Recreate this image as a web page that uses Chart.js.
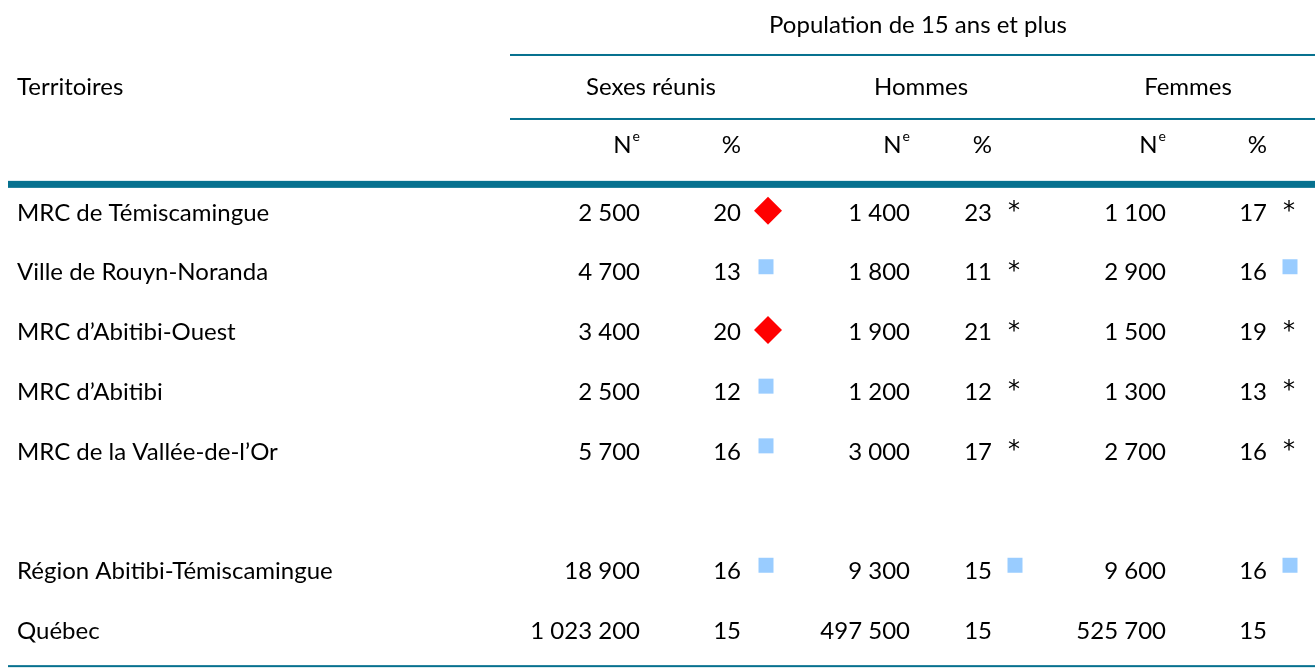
<!DOCTYPE html>
<html lang="fr">
<head>
<meta charset="utf-8">
<title>Population de 15 ans et plus</title>
<script src="https://cdn.jsdelivr.net/npm/chart.js@4/dist/chart.umd.min.js"></script>
<style>
  html, body { margin: 0; padding: 0; background: #fff; }
  #wrap { width: 1315px; height: 668px; position: relative; }
</style>
</head>
<body>
<div id="wrap"><canvas id="tbl"></canvas></div>
<script>
const territoires = ['MRC de Témiscamingue', 'Ville de Rouyn-Noranda', 'MRC d’Abitibi-Ouest', 'MRC d’Abitibi',
  'MRC de la Vallée-de-l’Or', '', 'Région Abitibi-Témiscamingue', 'Québec'];
const groupes = ['Sexes réunis', 'Hommes', 'Femmes'];
const nSexes   = [2500, 4700, 3400, 2500, 5700, null, 18900, 1023200];
const pctSexes = [20, 13, 20, 12, 16, null, 16, 15];
const nHommes   = [1400, 1800, 1900, 1200, 3000, null, 9300, 497500];
const pctHommes = [23, 11, 21, 12, 17, null, 15, 15];
const nFemmes   = [1100, 2900, 1500, 1300, 2700, null, 9600, 525700];
const pctFemmes = [17, 16, 19, 13, 16, null, 16, 15];
// d = losange rouge, s = carré bleu, * = astérisque
const flagSexes  = ['d', 's', 'd', 's', 's', null, 's', null];
const flagHommes = ['*', '*', '*', '*', '*', null, 's', null];
const flagFemmes = ['*', 's', '*', '*', '*', null, 's', null];

const TEAL = '#06718f';
const FONT = 'Lato, "Open Sans", sans-serif';
const FS = 24;

// column anchors (x scale units) for each group: right edge of N, right edge of %, marker center
const cols = [
  { head: 651, n: 640, p: 741, mark: 767 },
  { head: 921, n: 910, p: 992, mark: 1016 },
  { head: 1188, n: 1166, p: 1267, mark: 1291 }
];
const groupN = [nSexes, nHommes, nFemmes];
const groupP = [pctSexes, pctHommes, pctFemmes];
const groupF = [flagSexes, flagHommes, flagFemmes];

const fmt = v => String(v).replace(/\B(?=(\d{3})+(?!\d))/g, ' ');

// marker points built from the flags
const diamonds = [], squares = [];
groupF.forEach((flags, g) => {
  flags.forEach((f, i) => {
    if (f === 'd') diamonds.push({ x: cols[g].mark + 1, y: i - 0.04 });
    if (f === 's') squares.push({ x: cols[g].mark - 1, y: i - 0.1 });
  });
});

const tablePlugin = {
  id: 'tablePlugin',
  beforeDatasetsDraw(chart) {
    const { ctx, scales: { x, y } } = chart;
    ctx.save();
    // rules
    const hline = (x0, x1, yv, w) => {
      ctx.fillStyle = TEAL;
      const py = y.getPixelForValue(yv);
      ctx.fillRect(x.getPixelForValue(x0), py - w / 2, x.getPixelForValue(x1) - x.getPixelForValue(x0), w);
    };
    hline(510, 1315, -2.647, 2);
    hline(510, 1315, -1.575, 2);
    hline(8, 1315, -0.48, 7);
    hline(8, 1315, 7.59, 2);

    ctx.fillStyle = '#000';
    ctx.textBaseline = 'middle';
    ctx.font = FS + 'px ' + FONT;

    // headers
    ctx.textAlign = 'center';
    ctx.fillText('Population de 15 ans et plus', x.getPixelForValue(918), y.getPixelForValue(-3.149));
    groupes.forEach((g, k) => ctx.fillText(g, x.getPixelForValue(cols[k].head), y.getPixelForValue(-2.11)));
    ctx.textAlign = 'left';
    ctx.fillText('Territoires', x.getPixelForValue(17), y.getPixelForValue(-2.11));

    const yh = y.getPixelForValue(-1.139);
    cols.forEach(c => {
      ctx.textAlign = 'right';
      ctx.font = FS + 'px ' + FONT;
      ctx.fillText('%', x.getPixelForValue(c.p), yh);
      ctx.font = '14px ' + FONT;
      const ew = ctx.measureText('e').width;
      ctx.fillText('e', x.getPixelForValue(c.n), yh - 9);
      ctx.font = FS + 'px ' + FONT;
      ctx.fillText('N', x.getPixelForValue(c.n) - ew - 1, yh);
    });

    // body
    territoires.forEach((t, i) => {
      const py = y.getPixelForValue(i);
      ctx.textAlign = 'left';
      ctx.font = FS + 'px ' + FONT;
      ctx.fillText(t, x.getPixelForValue(17), py);
      cols.forEach((c, g) => {
        const n = groupN[g][i], p = groupP[g][i];
        ctx.textAlign = 'right';
        ctx.font = FS + 'px ' + FONT;
        if (n != null) ctx.fillText(fmt(n), x.getPixelForValue(c.n), py);
        if (p != null) ctx.fillText(String(p), x.getPixelForValue(c.p), py);
        if (groupF[g][i] === '*') {
          ctx.textAlign = 'center';
          ctx.font = '24px "DejaVu Sans", sans-serif';
          ctx.fillText('*', x.getPixelForValue(c.mark - 2), py - 1);
        }
      });
    });
    ctx.restore();
  }
};

new Chart(document.getElementById('tbl'), {
  type: 'scatter',
  data: {
    datasets: [
      { label: 'diff+', data: diamonds, pointStyle: 'rectRot', pointRadius: 14, pointHoverRadius: 14,
        backgroundColor: '#ff0000', borderColor: '#ff0000', borderWidth: 0 },
      { label: 'diff-', data: squares, pointStyle: 'rect', pointRadius: 10.6, pointHoverRadius: 10.6,
        backgroundColor: '#99ccff', borderColor: '#99ccff', borderWidth: 0 }
    ]
  },
  options: {
    responsive: true,
    maintainAspectRatio: false,
    animation: false,
    events: [],
    layout: { padding: 0, autoPadding: false },
    plugins: { legend: { display: false }, tooltip: { enabled: false } },
    scales: {
      x: { type: 'linear', min: 0, max: 1315, display: false },
      y: { type: 'linear', min: -3.568, max: 7.621, reverse: true, display: false }
    }
  },
  plugins: [tablePlugin]
});
</script>
</body>
</html>
